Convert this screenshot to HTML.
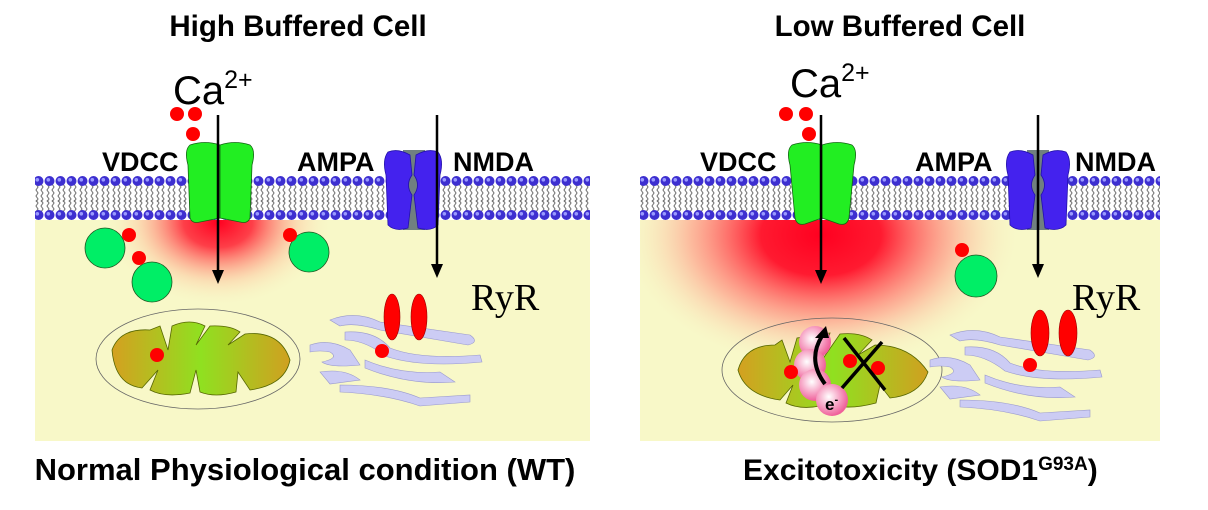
<!DOCTYPE html>
<html><head><style>
html,body{margin:0;padding:0;background:#fff;}
svg{display:block;}
text{font-family:"Liberation Sans",Arial,sans-serif;}
</style></head><body>
<svg width="1208" height="510" viewBox="0 0 1208 510" xmlns="http://www.w3.org/2000/svg">
<defs>
<pattern id="mem" x="0" y="176" width="11" height="44" patternUnits="userSpaceOnUse">
<rect width="11" height="44" fill="#fff"/>
<path d="M3 8 l2 3 -2 3 2 3 -2 3 2 3 -2 3 M8 8 l2 3 -2 3 2 3 -2 3 2 3 -2 3 M3 24 l2 3 -2 3 2 3 -2 3 2 3 M8 24 l2 3 -2 3 2 3 -2 3 2 3" fill="none" stroke="#777" stroke-width="1.1"/>
<circle cx="5.5" cy="5" r="5" fill="#3d2fd0"/><circle cx="4.3" cy="3.8" r="1.8" fill="#9a9aff"/>
<circle cx="5.5" cy="39" r="5" fill="#3d2fd0"/><circle cx="4.3" cy="37.8" r="1.8" fill="#9a9aff"/>
</pattern>
<radialGradient id="g1" cx="0.5" cy="0.5" r="0.5">
<stop offset="0" stop-color="#ff0020"/><stop offset="0.3" stop-color="#ff2a3a" stop-opacity="0.9"/><stop offset="0.7" stop-color="#ffb090" stop-opacity="0.35"/><stop offset="1" stop-color="#f8f8c8" stop-opacity="0"/>
</radialGradient>
<radialGradient id="g2" cx="0.5" cy="0.5" r="0.5">
<stop offset="0" stop-color="#ff0020"/><stop offset="0.3" stop-color="#ff1a30"/><stop offset="0.65" stop-color="#ff9080" stop-opacity="0.6"/><stop offset="1" stop-color="#f8f8c8" stop-opacity="0"/>
</radialGradient>
<linearGradient id="mito" x1="0" x2="1"><stop offset="0" stop-color="#d4a020"/><stop offset="0.5" stop-color="#90e020"/><stop offset="1" stop-color="#d0a020"/></linearGradient>
<radialGradient id="pk" cx="0.4" cy="0.4" r="0.6"><stop offset="0" stop-color="#fff"/><stop offset="1" stop-color="#f0609a"/></radialGradient>
<clipPath id="c1"><rect x="35" y="218" width="555" height="223"/></clipPath>
<clipPath id="c2"><rect x="640" y="218" width="520" height="223"/></clipPath>
</defs>

<text x="298" y="36" font-size="29.5" font-weight="bold" text-anchor="middle">High Buffered Cell</text>
<text x="900" y="36" font-size="29.5" font-weight="bold" text-anchor="middle">Low Buffered Cell</text>
<text x="305" y="480" font-size="31" font-weight="bold" text-anchor="middle">Normal Physiological condition (WT)</text>
<text x="743" y="480" font-size="30" font-weight="bold">Excitotoxicity (SOD1<tspan font-size="19" dy="-10">G93A</tspan><tspan dy="10">)</tspan></text>

<!-- LEFT PANEL -->
<rect x="35" y="218" width="555" height="223" fill="#f8f8c8"/>
<ellipse cx="218" cy="222" rx="115" ry="85" fill="url(#g1)" clip-path="url(#c1)"/>
<rect x="35" y="176" width="555" height="44" fill="url(#mem)"/>
<text x="102" y="171" font-size="27" font-weight="bold">VDCC</text>
<text x="297" y="171" font-size="27" font-weight="bold">AMPA</text>
<text x="453" y="171" font-size="27" font-weight="bold">NMDA</text>
<text x="173" y="104" font-size="40">Ca<tspan font-size="25" dy="-16">2+</tspan></text>
<g fill="#ff0000"><circle cx="177" cy="114" r="7"/><circle cx="195" cy="114" r="7"/><circle cx="193" cy="134" r="7"/></g>
<g fill="#22ee22" stroke="#116611" stroke-width="0.8">
<path d="M190 145 Q184 150 188 165 L190 218 Q192 224 200 222 L220 218 L220 145 Q205 140 190 145Z"/>
<path d="M250 145 Q256 150 252 165 L250 218 Q248 224 240 222 L220 218 L220 145 Q235 140 250 145Z"/>
</g>
<rect x="403" y="150" width="22" height="80" fill="#708080"/>
<g fill="#4422ee" stroke="#2211aa" stroke-width="0.8">
<path d="M388 152 Q382 160 386 175 L388 225 Q395 232 408 228 L412 195 Q405 185 412 175 L410 155 Q398 148 388 152Z"/>
<path d="M438 152 Q444 160 440 175 L438 225 Q431 232 418 228 L414 195 Q421 185 414 175 L416 155 Q428 148 438 152Z"/>
</g>
<line x1="218" y1="115" x2="218" y2="272" stroke="#000" stroke-width="2.5"/>
<polygon points="212,270 224,270 218,284" fill="#000"/>
<line x1="437" y1="115" x2="437" y2="266" stroke="#000" stroke-width="2.5"/>
<polygon points="431,264 443,264 437,278" fill="#000"/>
<g fill="#00ee66" stroke="#225522" stroke-width="0.8"><circle cx="105" cy="248" r="20"/><circle cx="152" cy="282" r="20"/><circle cx="309" cy="252" r="20"/></g>
<g fill="#ff0000"><circle cx="129" cy="235" r="7"/><circle cx="139" cy="258" r="7"/><circle cx="290" cy="235" r="7"/></g>
<ellipse cx="198" cy="359" rx="102" ry="50" fill="none" stroke="#666" stroke-width="0.8"/>
<path d="M112 350 Q120 328 150 330 L160 326 L168 350 L172 326 Q190 318 205 326 L196 345 L210 326 Q230 325 240 332 L228 345 L245 334 Q280 330 290 360 Q285 385 250 390 L238 372 L236 392 Q215 398 200 392 L196 370 L190 393 Q165 398 150 390 L158 370 L142 388 Q115 385 112 350Z" fill="url(#mito)" stroke="#556600" stroke-width="0.8"/>
<circle cx="157" cy="355" r="7" fill="#ff0000"/>
<g fill="#ccccf4" stroke="#9999cc" stroke-width="0.6">
<path d="M330 320 Q355 310 380 322 L470 335 Q480 342 468 345 L380 330 Q355 322 340 326Z"/>
<path d="M345 332 Q375 330 390 348 Q420 360 480 355 L482 362 Q420 368 385 356 Q365 340 345 340Z"/>
<path d="M310 345 Q330 338 350 350 L360 365 Q330 368 322 362 Q340 358 330 352 Q320 350 310 352Z"/>
<path d="M320 372 Q345 368 360 380 L330 384Z"/>
<path d="M365 360 Q400 375 440 372 L455 382 Q410 386 365 368Z"/>
<path d="M340 385 Q390 385 420 398 L470 395 L470 402 L420 406 Q385 394 340 392Z"/>
</g>
<g fill="#ff0000" stroke="#990000" stroke-width="0.6"><ellipse cx="392" cy="317" rx="8" ry="23"/><ellipse cx="419" cy="317" rx="8" ry="23"/></g>
<circle cx="382" cy="351" r="7" fill="#ff0000"/>
<text x="471" y="310" font-size="38" style="font-family:'Liberation Serif',serif">RyR</text>

<!-- RIGHT PANEL -->
<rect x="640" y="218" width="520" height="223" fill="#f8f8c8"/>
<ellipse cx="821" cy="235" rx="200" ry="135" fill="url(#g2)" clip-path="url(#c2)"/>
<rect x="640" y="176" width="520" height="44" fill="url(#mem)"/>
<text x="700" y="171" font-size="27" font-weight="bold">VDCC</text>
<text x="915" y="171" font-size="27" font-weight="bold">AMPA</text>
<text x="1075" y="171" font-size="27" font-weight="bold">NMDA</text>
<text x="790" y="97" font-size="40">Ca<tspan font-size="25" dy="-16">2+</tspan></text>
<g fill="#ff0000"><circle cx="786" cy="114" r="7"/><circle cx="806" cy="114" r="7"/><circle cx="809" cy="134" r="7"/></g>
<g fill="#22ee22" stroke="#116611" stroke-width="0.8">
<path d="M792 145 Q786 150 790 165 L795 218 Q797 226 805 224 L822 218 L822 145 Q807 140 792 145Z"/>
<path d="M852 145 Q858 150 854 165 L849 218 Q847 226 839 224 L822 218 L822 145 Q837 140 852 145Z"/>
</g>
<rect x="1027" y="150" width="22" height="80" fill="#708080"/>
<g fill="#4422ee" stroke="#2211aa" stroke-width="0.8">
<path d="M1010 152 Q1004 160 1008 175 L1010 225 Q1017 232 1031 228 L1035 195 Q1028 185 1035 175 L1033 155 Q1021 148 1010 152Z"/>
<path d="M1066 152 Q1072 160 1068 175 L1066 225 Q1059 232 1045 228 L1041 195 Q1048 185 1041 175 L1043 155 Q1055 148 1066 152Z"/>
</g>
<line x1="821" y1="115" x2="821" y2="272" stroke="#000" stroke-width="2.5"/>
<polygon points="815,270 827,270 821,284" fill="#000"/>
<line x1="1038" y1="115" x2="1038" y2="266" stroke="#000" stroke-width="2.5"/>
<polygon points="1032,264 1044,264 1038,278" fill="#000"/>
<circle cx="976" cy="276" r="21" fill="#00ee66" stroke="#225522" stroke-width="0.8"/>
<circle cx="962" cy="250" r="7" fill="#ff0000"/>
<ellipse cx="832" cy="370" rx="110" ry="52" fill="none" stroke="#666" stroke-width="0.8"/>
<path d="M738 370 Q745 345 775 345 L782 340 L790 362 L797 338 L830 333 L822 360 L840 334 Q860 332 872 340 L858 355 L875 345 Q910 345 928 372 Q920 395 890 398 L880 385 L876 403 Q850 410 832 405 L828 385 L820 406 Q800 410 786 403 L793 385 L780 400 Q745 395 738 370Z" fill="url(#mito)" stroke="#556600" stroke-width="0.8"/>
<g fill="url(#pk)"><circle cx="815" cy="342" r="16"/><circle cx="810" cy="365" r="16"/><circle cx="815" cy="385" r="16"/><circle cx="832" cy="400" r="16"/></g>
<path d="M825 384 Q807 360 822 336" fill="none" stroke="#000" stroke-width="4"/>
<polygon points="815,338 829,338 826,326" fill="#000"/>
<text x="825" y="410" font-size="17" font-weight="bold">e<tspan font-size="11" dy="-7">-</tspan></text>
<g fill="#ff0000"><circle cx="791" cy="372" r="7"/><circle cx="850" cy="361" r="7"/><circle cx="878" cy="368" r="7"/></g>
<path d="M844 338 L885 390 M882 342 L842 388" stroke="#000" stroke-width="3.5"/>
<g transform="translate(620,15)" fill="#ccccf4" stroke="#9999cc" stroke-width="0.6">
<path d="M330 320 Q355 310 380 322 L470 335 Q480 342 468 345 L380 330 Q355 322 340 326Z"/>
<path d="M345 332 Q375 330 390 348 Q420 360 480 355 L482 362 Q420 368 385 356 Q365 340 345 340Z"/>
<path d="M310 345 Q330 338 350 350 L360 365 Q330 368 322 362 Q340 358 330 352 Q320 350 310 352Z"/>
<path d="M320 372 Q345 368 360 380 L330 384Z"/>
<path d="M365 360 Q400 375 440 372 L455 382 Q410 386 365 368Z"/>
<path d="M340 385 Q390 385 420 398 L470 395 L470 402 L420 406 Q385 394 340 392Z"/>
</g>
<g fill="#ff0000" stroke="#990000" stroke-width="0.6"><ellipse cx="1040" cy="333" rx="9" ry="23"/><ellipse cx="1068" cy="333" rx="9" ry="23"/></g>
<circle cx="1030" cy="365" r="7" fill="#ff0000"/>
<text x="1072" y="310" font-size="38" style="font-family:'Liberation Serif',serif">RyR</text>
</svg>
</body></html>
